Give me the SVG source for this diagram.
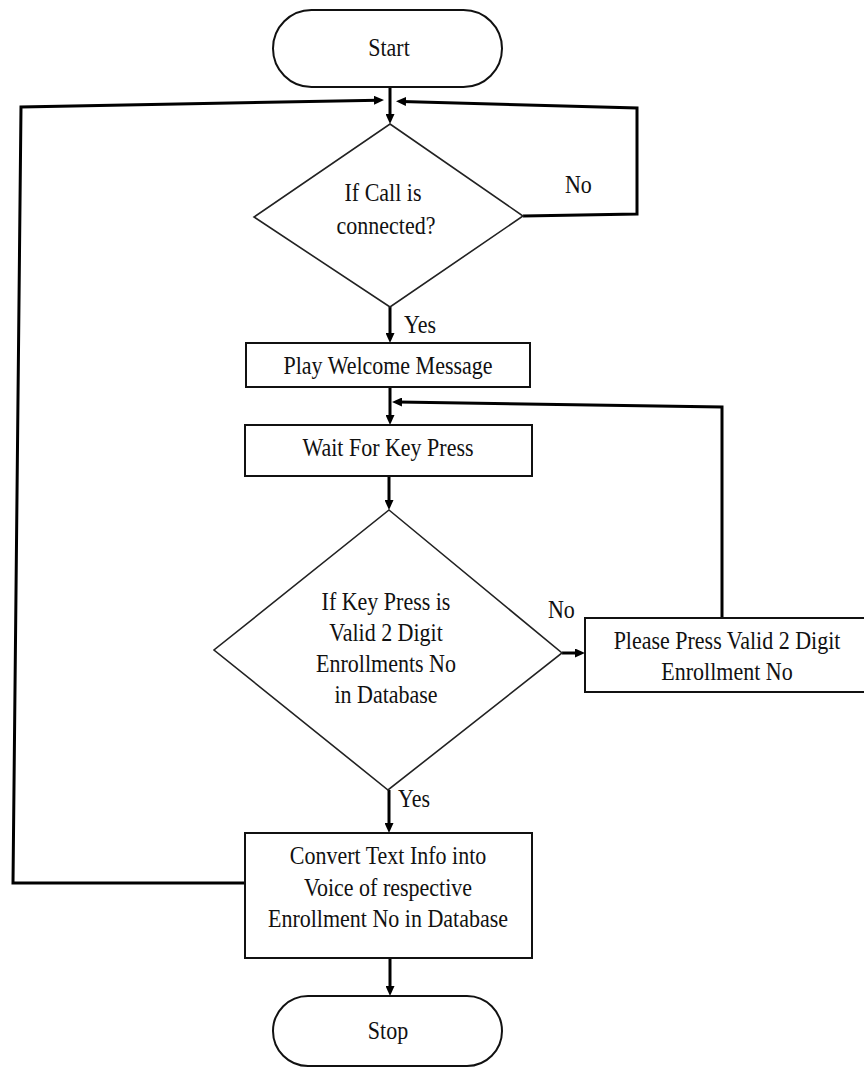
<svg xmlns="http://www.w3.org/2000/svg" width="864" height="1068" viewBox="0 0 864 1068">
<style>
.shape{fill:#fff;stroke:#111;stroke-width:2}
.dia{fill:#fff;stroke:#222;stroke-width:1.6}
.conn{fill:none;stroke:#000;stroke-width:3;stroke-linejoin:miter}
text{font-family:"Liberation Serif","Times New Roman",serif;font-size:25px;fill:#111;transform-box:fill-box;transform:scaleX(0.88)}
.c{text-anchor:middle;transform-origin:center}
.l{transform-origin:left}
</style>
<defs>
<marker id="arr" markerUnits="userSpaceOnUse" markerWidth="10" markerHeight="9" refX="4" refY="4.5" orient="auto">
<path d="M0,0 L10,4.5 L0,9 z" fill="#000"/>
</marker>
</defs>
<rect width="864" height="1068" fill="#fff"/>
<g id="connectors">
<path class="conn" d="M390,87 V118" marker-end="url(#arr)"/>
<path class="conn" d="M390,307 V337" marker-end="url(#arr)"/>
<path class="conn" d="M390,387 V419" marker-end="url(#arr)"/>
<path class="conn" d="M389,476 V504" marker-end="url(#arr)"/>
<path class="conn" d="M562,653 H579" marker-end="url(#arr)"/>
<path class="conn" d="M389,790 V827" marker-end="url(#arr)"/>
<path class="conn" d="M390,958 V990" marker-end="url(#arr)"/>
<path class="conn" d="M523,216 L637,214 L637,108 L402,101.4" marker-end="url(#arr)"/>
<path class="conn" d="M722,618 L722,407 L398,402" marker-end="url(#arr)"/>
<path class="conn" d="M245,883 L13,883 L21,107 L378,100.2" marker-end="url(#arr)"/>
<text class="l" x="404" y="333">Yes</text>
<text class="l" x="398" y="807">Yes</text>
<text class="l" x="565" y="193">No</text>
<text class="l" x="548" y="618">No</text>
</g>
<g id="start">
<rect class="shape" x="273" y="10" width="229" height="77" rx="38.5"/>
<text class="c" x="389" y="56">Start</text>
</g>
<g id="decision-call">
<polygon class="dia" points="390,124 523,216 390,307 254,217"/>
<text class="c" x="383" y="201">If Call is</text>
<text class="c" x="386" y="234">connected?</text>
</g>
<g id="play-welcome">
<rect class="shape" x="246" y="343" width="284" height="44"/>
<text class="c" x="388" y="374">Play Welcome Message</text>
</g>
<g id="wait-key">
<rect class="shape" x="245" y="425" width="287" height="51"/>
<text class="c" x="388" y="456">Wait For Key Press</text>
</g>
<g id="decision-key">
<polygon class="dia" points="389,510 562,653 388,790 214,650"/>
<text class="c" x="386" y="610">If Key Press is</text>
<text class="c" x="386" y="641">Valid 2 Digit</text>
<text class="c" x="386" y="672">Enrollments No</text>
<text class="c" x="386" y="703">in Database</text>
</g>
<g id="please-press">
<rect class="shape" x="585" y="618" width="286" height="74"/>
<text class="c" x="727" y="649">Please Press Valid 2 Digit</text>
<text class="c" x="727" y="680">Enrollment No</text>
</g>
<g id="convert">
<rect class="shape" x="245" y="833" width="287" height="125"/>
<text class="c" x="388" y="864">Convert Text Info into</text>
<text class="c" x="388" y="896">Voice of respective</text>
<text class="c" x="388" y="927">Enrollment No in Database</text>
</g>
<g id="stop">
<rect class="shape" x="273" y="996" width="229" height="70" rx="35"/>
<text class="c" x="388" y="1039">Stop</text>
</g>
</svg>
